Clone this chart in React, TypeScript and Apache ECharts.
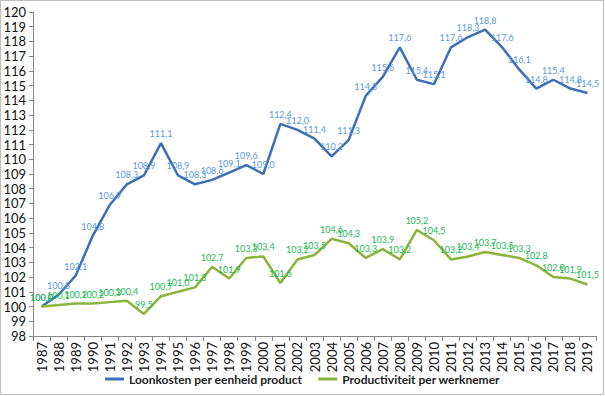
import React, { useEffect, useRef } from "react";
import * as echarts from "echarts";

const years = [
  "1987","1988","1989","1990","1991","1992","1993","1994","1995","1996","1997",
  "1998","1999","2000","2001","2002","2003","2004","2005","2006","2007","2008",
  "2009","2010","2011","2012","2013","2014","2015","2016","2017","2018","2019",
];

const loonkosten = [
  100.0, 100.8, 102.1, 104.8, 106.9, 108.3, 108.9, 111.1, 108.9, 108.3, 108.6,
  109.1, 109.6, 109.0, 112.4, 112.0, 111.4, 110.2, 111.3, 114.3, 115.6, 117.6,
  115.4, 115.1, 117.6, 118.3, 118.8, 117.6, 116.1, 114.8, 115.4, 114.8, 114.5,
];

const productiviteit = [
  100.0, 100.1, 100.2, 100.2, 100.3, 100.4, 99.5, 100.7, 101.0, 101.3, 102.7,
  101.9, 103.3, 103.4, 101.6, 103.2, 103.5, 104.6, 104.3, 103.3, 103.9, 103.2,
  105.2, 104.5, 103.2, 103.4, 103.7, 103.5, 103.3, 102.8, 102.0, 101.9, 101.5,
];

const seriesNames = ["Loonkosten per eenheid product", "Productiviteit per werknemer"];

const fmt = (v: number) => v.toFixed(1).replace(".", ",");

export default function App() {
  const ref = useRef<HTMLDivElement>(null);
  useEffect(() => {
    if (!ref.current) return;
    const chart = echarts.init(ref.current, null, { renderer: "svg" });
    const font = "Lato, 'Liberation Sans', sans-serif";
    chart.setOption({
      animation: false,
      backgroundColor: "#ffffff",
      textStyle: { fontFamily: font },
      grid: { left: 33, right: 9, top: 12, bottom: 60, containLabel: false },
      graphic: [
        {
          type: "rect",
          shape: { x: 0.5, y: 0.5, width: 603, height: 394 },
          style: { fill: "none", stroke: "#BFBFBF", lineWidth: 1 },
          silent: true,
        },
      ],
      legend: {
        bottom: 6,
        left: "center",
        itemGap: 16,
        itemWidth: 19,
        itemHeight: 3,
        icon: "rect",
        textStyle: { fontSize: 12, fontWeight: "bold", color: "#222", fontFamily: font },
        data: seriesNames,
      },
      xAxis: {
        type: "category",
        data: years,
        boundaryGap: true,
        axisLine: { show: true, lineStyle: { color: "#868686" } },
        axisTick: { show: true, interval: 0, length: 5, lineStyle: { color: "#868686" } },
        axisLabel: { interval: 0, rotate: 90, fontSize: 13, color: "#111", margin: 6, fontFamily: font },
        splitLine: { show: false },
      },
      yAxis: {
        type: "value",
        min: 98,
        max: 120,
        interval: 1,
        axisLine: { show: true, lineStyle: { color: "#868686" } },
        axisTick: { show: true, length: 4, lineStyle: { color: "#868686" } },
        axisLabel: { fontSize: 13, color: "#111", margin: 7, fontFamily: font },
        splitLine: { show: false },
      },
      series: [
        {
          name: seriesNames[0],
          type: "line",
          data: loonkosten,
          symbol: "circle",
          symbolSize: 0,
          showSymbol: true,
          lineStyle: { color: "#3C6FB5", width: 2.5 },
          itemStyle: { color: "#3C6FB5" },
          labelLayout: { hideOverlap: false },
          label: {
            show: true,
            position: "top",
            distance: 5,
            fontSize: 9,
            color: "#5B9BE0",
            fontFamily: font,
            formatter: (p: any) => fmt(p.value),
          },
        },
        {
          name: seriesNames[1],
          type: "line",
          data: productiviteit,
          symbol: "circle",
          symbolSize: 0,
          showSymbol: true,
          lineStyle: { color: "#8CB43C", width: 2.5 },
          itemStyle: { color: "#8CB43C" },
          labelLayout: { hideOverlap: false },
          label: {
            show: true,
            position: "top",
            distance: 5,
            fontSize: 9,
            color: "#1DB954",
            fontFamily: font,
            formatter: (p: any) => fmt(p.value),
          },
        },
      ],
    });
    return () => chart.dispose();
  }, []);
  return (
    <div
      ref={ref}
      style={{ position: "fixed", left: 0, top: 0, width: 605, height: 396 }}
    />
  );
}
